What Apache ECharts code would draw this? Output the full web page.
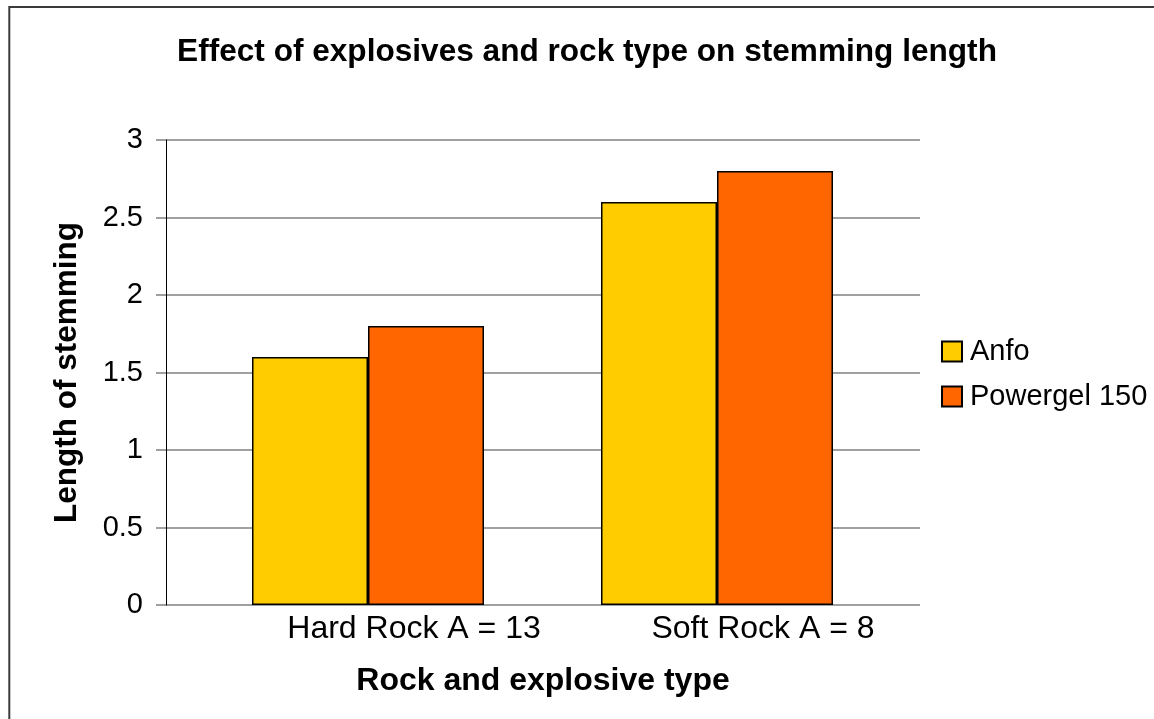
<!DOCTYPE html>
<html>
<head>
<meta charset="utf-8">
<title>Effect of explosives and rock type on stemming length</title>
<script src="https://cdn.jsdelivr.net/npm/echarts@6/dist/echarts.min.js"></script>
<style>
  html, body { margin: 0; padding: 0; background: #ffffff; }
  #chart { width: 1154px; height: 719px; }
</style>
</head>
<body>
<div id="chart"></div>
<script>
// Chart data
const categories = ['Hard Rock A = 13', 'Soft Rock A = 8'];
const seriesNames = ['Anfo', 'Powergel 150'];
const anfo = [1.6, 2.6];
const powergel = [1.8, 2.8];
const seriesColors = ['#FFCC00', '#FF6600'];
const yMin = 0, yMax = 3, yStep = 0.5;

const FONT = 'Arial, "Liberation Sans", sans-serif';

const chart = echarts.init(document.getElementById('chart'), null, { renderer: 'canvas' });

const barStyle = (color) => ({ color: color, borderColor: '#000000', borderWidth: 1.5 });

chart.setOption({
  backgroundColor: '#ffffff',
  animation: false,
  title: {
    text: 'Effect of explosives and rock type on stemming length',
    left: 582,
    top: 31,
    textAlign: 'center',
    textStyle: { fontFamily: FONT, fontSize: 31.6, fontWeight: 'bold', color: '#000000' }
  },
  legend: {
    orient: 'vertical',
    left: 941,
    top: 337,
    padding: 0,
    itemWidth: 20,
    itemHeight: 20,
    itemGap: 16,
    icon: 'rect',
    data: seriesNames,
    textStyle: { fontFamily: FONT, fontSize: 29, color: '#000000', padding: [0, 0, 0, 3] }
  },
  graphic: [{
    type: 'rect',
    shape: { x: 9.3, y: 7, width: 1300, height: 900 },
    style: { fill: 'none', stroke: '#3a3a3a', lineWidth: 2 },
    silent: true,
    z: 100
  }],
  grid: [
    // frame grid: value axis, gridlines and axis titles
    { left: 166, right: 234, top: 140, bottom: 114 },
    // bar grid
    { left: 193.5, right: 262.5, top: 140, bottom: 114 }
  ],
  xAxis: [
    {
      gridIndex: 0,
      type: 'category',
      data: categories,
      axisLine: { show: false },
      axisTick: { show: false },
      axisLabel: { show: false },
      name: 'Rock and explosive type',
      nameLocation: 'middle',
      nameGap: 60,
      nameTextStyle: { fontFamily: FONT, fontSize: 32, fontWeight: 'bold', color: '#000000' }
    },
    {
      gridIndex: 1,
      type: 'category',
      data: categories,
      axisLine: { show: false },
      axisTick: { show: false },
      axisLabel: {
        fontFamily: FONT, fontSize: 32, color: '#000000', margin: 8,
        padding: [0, 0, 0, 92]
      }
    }
  ],
  yAxis: [
    {
      gridIndex: 0,
      type: 'value',
      min: yMin, max: yMax, interval: yStep,
      axisLine: { show: true, lineStyle: { color: '#000000', width: 1 } },
      axisTick: { show: true, inside: false, length: 10, lineStyle: { color: '#808080', width: 1.5 } },
      splitLine: { show: true, lineStyle: { color: '#808080', width: 1.5 } },
      axisLabel: { fontFamily: FONT, fontSize: 29, color: '#000000', margin: 23 },
      name: 'Length of stemming',
      nameLocation: 'middle',
      nameGap: 83,
      nameTextStyle: { fontFamily: FONT, fontSize: 31.5, fontWeight: 'bold', color: '#000000' }
    },
    {
      gridIndex: 1,
      type: 'value',
      min: yMin, max: yMax, interval: yStep,
      show: false,
      splitLine: { show: false }
    }
  ],
  series: [
    {
      name: seriesNames[0],
      type: 'bar',
      xAxisIndex: 1, yAxisIndex: 1,
      data: anfo,
      barWidth: 116,
      barGap: '0%',
      itemStyle: barStyle(seriesColors[0])
    },
    {
      name: seriesNames[1],
      type: 'bar',
      xAxisIndex: 1, yAxisIndex: 1,
      data: powergel,
      barWidth: 116,
      barGap: '0%',
      itemStyle: barStyle(seriesColors[1])
    }
  ]
});
</script>
</body>
</html>
